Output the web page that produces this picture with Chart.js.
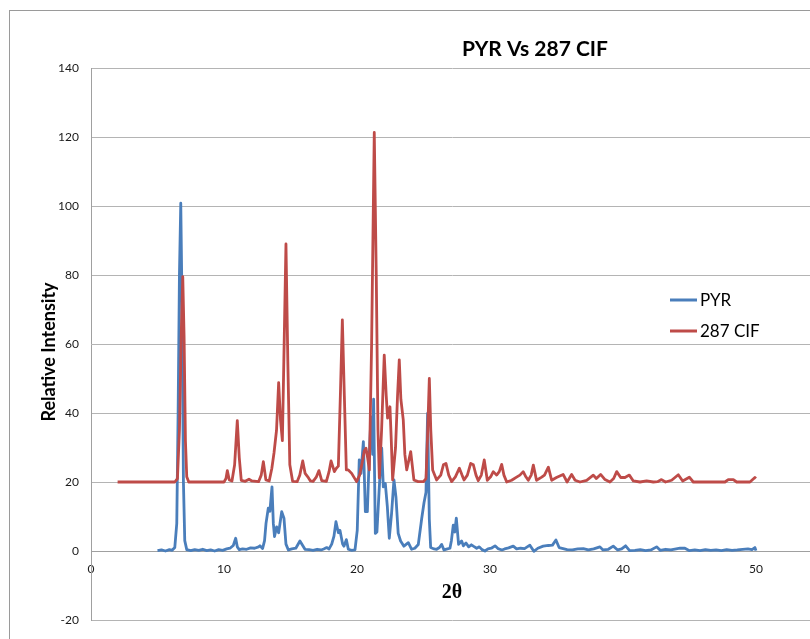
<!DOCTYPE html>
<html><head><meta charset="utf-8">
<script src="https://cdn.jsdelivr.net/npm/chart.js@4.4.0/dist/chart.umd.min.js"></script>
<style>
html,body{margin:0;padding:0;background:#fff;overflow:hidden;width:810px;height:639px;}
#frame{position:absolute;left:9px;top:10px;border-left:1px solid #9a9a9a;border-top:1px solid #9a9a9a;width:1100px;height:700px;}
canvas{display:block;}
</style></head><body>
<div id="frame"><canvas id="c" width="1050" height="700"></canvas></div>
<script>
const chartTitle = 'PYR Vs 287 CIF';
const seriesNames = ['PYR', '287 CIF'];
const xAxisTitle = '2θ';
const yAxisTitle = 'Relative Intensity';
const xTickValues = [0, 10, 20, 30, 40, 50];
const yTickValues = [-20, 0, 20, 40, 60, 80, 100, 120, 140];

// PYR: [2θ, intensity]
const pyrPoints = [
 [5.0,0.1],[5.3,0.3],[5.6,0.0],[5.9,0.4],[6.1,0.2],[6.3,1.0],[6.45,8],[6.55,40],[6.65,80],[6.75,100.8],
 [6.85,70],[6.95,20],[7.05,3],[7.2,0.4],[7.5,0.1],[7.8,0.4],[8.1,0.2],[8.4,0.5],[8.7,0.1],[9.0,0.3],
 [9.3,0.0],[9.6,0.4],[9.9,0.2],[10.2,0.6],[10.45,0.8],[10.7,1.6],[10.88,3.7],[11.0,1.2],[11.15,0.4],[11.4,0.6],
 [11.7,0.5],[12.0,0.9],[12.3,0.8],[12.6,1.2],[12.7,1.5],[12.9,0.7],[13.05,3],[13.16,8],[13.33,12.4],[13.45,11.5],
 [13.61,18.6],[13.71,8],[13.8,4.2],[13.96,7],[14.11,5.3],[14.34,11.4],[14.51,9.5],[14.66,2],[14.84,0.3],[15.1,0.6],
 [15.4,0.8],[15.71,2.9],[16.09,0.5],[16.4,0.4],[16.7,0.2],[17.0,0.5],[17.3,0.3],[17.5,0.6],[17.72,1.0],[17.9,0.6],
 [18.1,2],[18.27,4.3],[18.42,8.5],[18.6,5.3],[18.72,6],[18.92,2],[19.02,1.4],[19.2,3.3],[19.35,0.5],[19.6,0.2],
 [19.85,0.3],[20.02,6],[20.17,26.4],[20.3,22.5],[20.48,31.7],[20.63,11.4],[20.78,11.4],[20.93,28.3],[21.05,38.9],[21.18,28],
 [21.25,44],[21.38,5.1],[21.5,5.5],[21.68,18.6],[21.86,29.8],[21.98,18.6],[22.13,19.6],[22.28,13],[22.43,3.7],[22.6,10.8],
 [22.78,20.6],[22.93,15.7],[23.1,5.1],[23.28,2.9],[23.53,1.4],[23.86,2.4],[24.11,0.5],[24.35,0.8],[24.61,1.9],[24.86,9.2],
 [25.04,14],[25.19,17],[25.31,39.9],[25.44,9.2],[25.54,1],[25.8,0.6],[25.99,0.5],[26.2,1.0],[26.37,1.9],[26.54,0.3],
 [26.8,0.6],[26.99,0.8],[27.1,3],[27.24,7.5],[27.35,5.5],[27.47,9.5],[27.64,1.9],[27.87,2.9],[28.0,1.5],[28.2,2.3],
 [28.4,1.2],[28.6,1.8],[28.75,1.4],[29.0,0.8],[29.2,1.2],[29.4,0.4],[29.62,0.0],[29.85,0.6],[30.1,0.8],[30.38,1.5],
 [30.6,0.7],[30.9,0.3],[31.1,0.6],[31.4,0.9],[31.75,1.4],[32.0,0.6],[32.3,0.8],[32.6,0.7],[33.0,1.7],[33.3,-0.1],
 [33.6,0.8],[34.0,1.4],[34.39,1.6],[34.7,1.7],[34.96,3.2],[35.2,1.0],[35.5,0.7],[35.8,0.4],[36.2,0.3],[36.6,0.6],
 [37.02,0.7],[37.4,0.3],[37.8,0.6],[38.27,1.2],[38.5,0.3],[38.9,0.5],[39.27,1.4],[39.6,0.3],[39.9,0.6],[40.2,1.5],
 [40.5,0.1],[40.9,0.2],[41.3,0.4],[41.7,0.1],[42.1,0.3],[42.53,1.2],[42.8,0.2],[43.2,0.5],[43.6,0.3],[44.0,0.6],
 [44.29,0.8],[44.66,0.8],[45.0,0.1],[45.4,0.3],[45.8,0.1],[46.2,0.4],[46.6,0.2],[47.0,0.3],[47.4,0.1],[47.8,0.4],
 [48.2,0.2],[48.6,0.3],[49.0,0.5],[49.4,0.6],[49.7,0.4],[49.92,1.0],[50.0,0.1]
];

// 287 CIF: [2θ, intensity]
const cifPoints = [
 [2.0,20],[4.0,20],[6.3,20],[6.5,21],[6.65,35],[6.8,65],[6.9,79.5],[7.0,62],[7.1,32],[7.2,21.5],
 [7.35,20],[8.5,20],[10.0,20],[10.15,21],[10.25,23.3],[10.4,20.6],[10.6,20.3],[10.8,25],[11.0,37.8],[11.15,27],
 [11.3,20.5],[11.6,20.2],[11.88,20.8],[12.1,20.3],[12.6,20.1],[12.8,22],[12.96,25.9],[13.15,20.6],[13.4,20.3],[13.6,24],
 [13.76,28.4],[13.95,35],[14.11,48.8],[14.25,38],[14.39,32.0],[14.5,55],[14.66,89.0],[14.8,55],[14.95,25],[15.16,20.2],
 [15.5,20.1],[15.7,22],[15.92,26.1],[16.1,22.5],[16.3,21.5],[16.5,20.3],[16.7,20.2],[16.95,21.5],[17.14,23.3],[17.35,20.4],
 [17.7,20.2],[17.9,23],[18.05,26.1],[18.3,23],[18.45,24],[18.6,24.6],[18.75,45],[18.9,67],[19.05,45],[19.2,23.5],
 [19.35,23.5],[19.6,22.5],[19.97,20.1],[20.2,22],[20.43,26.4],[20.55,29],[20.68,29.8],[20.8,27],[20.93,23.5],[21.1,60],
 [21.3,121.3],[21.45,80],[21.58,35],[21.68,21.2],[21.85,35],[22.05,56.8],[22.2,45],[22.3,38.5],[22.48,41.8],[22.58,32],
 [22.68,20.6],[22.9,30],[23.05,45],[23.18,55.4],[23.3,44],[23.48,38],[23.6,28],[23.74,23.5],[24.04,28.8],[24.28,20.6],
 [24.6,20.1],[25.0,20.1],[25.19,21],[25.32,35],[25.44,50.0],[25.55,35],[25.69,23.5],[25.99,20.6],[26.3,22],[26.5,25],
 [26.69,25.4],[26.9,22],[27.12,20.1],[27.4,21.5],[27.7,24],[27.9,22],[28.05,20.6],[28.3,22],[28.55,25.4],[28.75,25],
 [28.95,22],[29.12,20.4],[29.35,22],[29.57,26.4],[29.8,20.5],[30.05,21.5],[30.25,23],[30.5,22],[30.7,23],[30.88,25.1],
 [31.05,22],[31.26,20],[31.63,20.5],[32.0,21.4],[32.25,22],[32.5,23],[32.7,21.5],[32.88,20.5],[33.1,22],[33.26,24.9],
 [33.5,20.5],[33.89,21.4],[34.1,22],[34.39,24.3],[34.64,20.5],[35.0,21.3],[35.5,22.2],[35.8,20],[36.14,22.2],[36.4,20.5],
 [36.77,20],[37.27,20.5],[37.77,22],[38.0,21],[38.32,22.2],[38.65,20.7],[39.02,20],[39.3,21],[39.53,23],[39.83,21.3],
 [40.15,21.3],[40.48,22],[40.78,20.3],[41.28,20],[41.78,20.3],[42.28,20],[42.6,20.1],[42.9,20.7],[43.2,20],[43.66,20.5],
 [44.16,22.1],[44.49,20.3],[44.99,21.4],[45.29,20],[46.5,20],[47.67,20],[47.92,20.7],[48.3,20.7],[48.55,20],[49.55,20],
 [49.92,21.3],[50.0,21.0]
];

const seriesColors = ['#4a7ebb', '#be4b48'];
const sans = 'Lato, "Liberation Sans", Arial, sans-serif';
Chart.defaults.font.family = sans;
Chart.defaults.color = '#1a1a1a';

const toXY = pts => pts.map(p => ({x: p[0], y: p[1]}));

const legendPlugin = {
  id: 'xlLegend',
  afterDraw(chart) {
    const {ctx, chartArea} = chart;
    const lx = chartArea.left + 579;
    const rows = [chartArea.top + 232, chartArea.top + 263];
    ctx.save();
    ctx.font = '17px ' + sans;
    ctx.textBaseline = 'middle';
    ctx.textAlign = 'left';
    seriesNames.forEach((name, i) => {
      ctx.strokeStyle = seriesColors[i];
      ctx.lineWidth = 3;
      ctx.beginPath();
      ctx.moveTo(lx, rows[i]);
      ctx.lineTo(lx + 27, rows[i]);
      ctx.stroke();
      ctx.fillStyle = '#000';
      ctx.fillText(name, lx + 30, rows[i] + 1);
    });
    // y-axis title (Excel places it slightly below the plot centre)
    ctx.save();
    ctx.translate(chartArea.left - 42, (chartArea.top + chartArea.bottom) / 2 + 8);
    ctx.rotate(-Math.PI / 2);
    ctx.font = 'bold 18px ' + sans;
    ctx.textAlign = 'center';
    ctx.textBaseline = 'middle';
    ctx.fillStyle = '#000';
    ctx.fillText(yAxisTitle, 0, 0);
    ctx.restore();
    ctx.restore();
  }
};

new Chart(document.getElementById('c'), {
  type: 'scatter',
  data: {
    datasets: [
      {label: seriesNames[0], data: toXY(pyrPoints), showLine: true, borderColor: seriesColors[0], backgroundColor: seriesColors[0], borderWidth: 2.8, pointRadius: 0, tension: 0, order: 1, borderJoinStyle: 'round'},
      {label: seriesNames[1], data: toXY(cifPoints), showLine: true, borderColor: seriesColors[1], backgroundColor: seriesColors[1], borderWidth: 2.8, pointRadius: 0, tension: 0, order: 0, borderJoinStyle: 'round'}
    ]
  },
  options: {
    responsive: false,
    animation: false,
    devicePixelRatio: 1,
    layout: {padding: {left: 0, right: 0, top: 0, bottom: 91}},
    plugins: {
      legend: {display: false},
      tooltip: {enabled: false},
      title: {
        display: true, text: chartTitle, color: '#000',
        font: {size: 21, weight: 'bold', family: sans, lineHeight: 1.2},
        padding: {top: 26, bottom: 5.8}
      }
    },
    scales: {
      x: {
        type: 'linear', min: 0, max: 54.29,
        position: {y: 0},
        afterBuildTicks: s => { s.ticks = xTickValues.map(v => ({value: v})); },
        afterFit: s => { s.height = 53.5; },
        grid: {display: false, drawTicks: false},
        border: {display: true, color: '#a0a0a0', width: 1},
        ticks: {padding: 11, font: {size: 12}, color: '#1a1a1a', maxRotation: 0, includeBounds: false},
        title: {display: true, text: xAxisTitle, color: '#000', padding: 0,
                font: {size: 20, weight: 'bold', family: '"Liberation Serif", "Times New Roman", serif', lineHeight: 1.2}}
      },
      y: {
        type: 'linear', min: -20, max: 140,
        afterBuildTicks: s => { s.ticks = yTickValues.map(v => ({value: v})); },
        afterFit: s => { s.width = 81; },
        grid: {color: '#b4b4b4', lineWidth: 1, drawTicks: false},
        border: {display: true, color: '#a0a0a0', width: 1},
        ticks: {padding: 12, font: {size: 12}, color: '#1a1a1a'},
        title: {display: false}
      },
      yRight: {
        type: 'linear', position: 'right', display: true, min: -20, max: 140,
        afterFit: s => { s.width = 247; },
        grid: {display: false, drawTicks: false},
        border: {display: false},
        ticks: {display: false}
      }
    }
  },
  plugins: [legendPlugin]
});
</script>
</body></html>
